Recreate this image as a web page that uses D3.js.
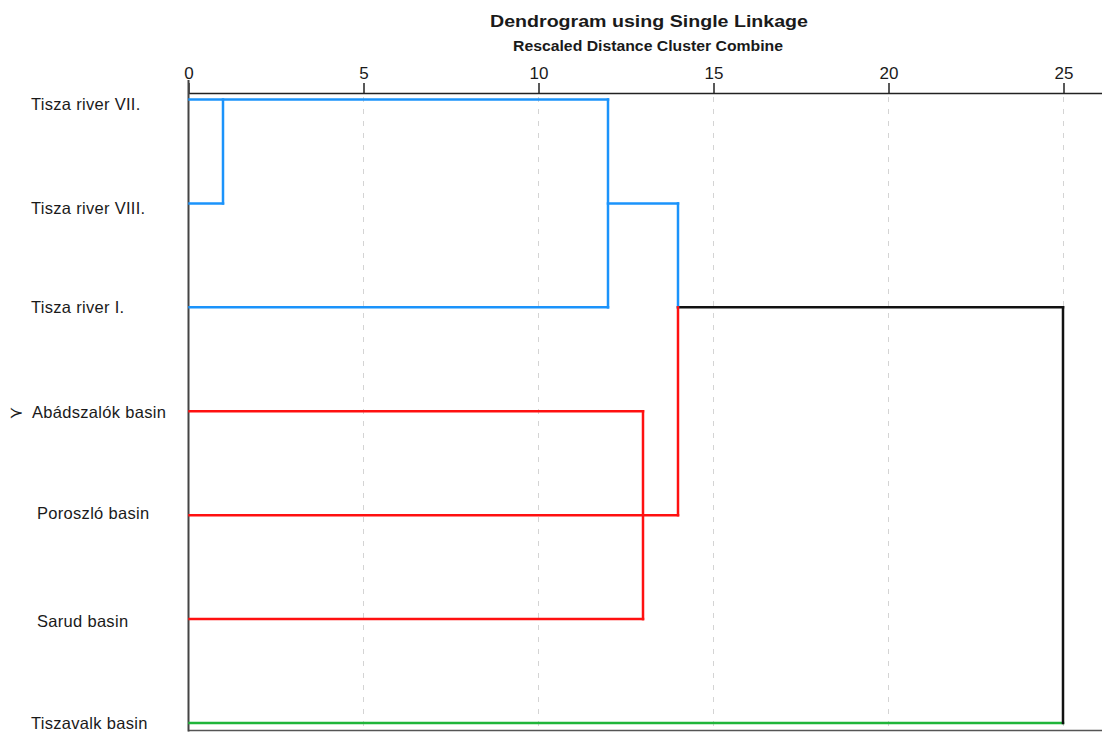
<!DOCTYPE html>
<html>
<head>
<meta charset="utf-8">
<script src="https://cdn.jsdelivr.net/npm/d3@7"></script>
<style>
  html, body { margin: 0; padding: 0; background: #fff; }
  svg { display: block; }
  text { font-family: "Liberation Sans", Arial, sans-serif; fill: #1a1a1a; }
</style>
</head>
<body>
<svg id="chart" width="1102" height="733"></svg>
<script>
// Cases, top to bottom
const leaves = [
  "Tisza river VII.",
  "Tisza river VIII.",
  "Tisza river I.",
  "Abádszalók basin",
  "Poroszló basin",
  "Sarud basin",
  "Tiszavalk basin"
];

// Rescaled distance axis ticks
const ticks = [0, 5, 10, 15, 20, 25];

// Horizontal branches: case row, distance start, distance end, cluster group
const hLeaf  = ["Tisza river VII.", "Tisza river VIII.", "Tisza river VIII.", "Tisza river I.", "Tisza river I.", "Abádszalók basin", "Poroszló basin", "Sarud basin", "Tiszavalk basin"];
const hFrom  = [0, 0, 12, 0, 14, 0, 0, 0, 0];
const hTo    = [12, 1, 14, 12, 25, 13, 14, 13, 25];
const hGroup = ["A", "A", "A", "A", "root", "B", "B", "B", "C"];

// Vertical joins: distance, upper case row, lower case row, cluster group
const vDist  = [1, 12, 14, 14, 13, 25];
const vTop   = ["Tisza river VII.", "Tisza river VII.", "Tisza river VIII.", "Tisza river I.", "Abádszalók basin", "Tisza river I."];
const vBot   = ["Tisza river VIII.", "Tisza river I.", "Tisza river I.", "Poroszló basin", "Sarud basin", "Tiszavalk basin"];
const vGroup = ["A", "A", "A", "B", "B", "root"];

// Label placement (pixels): left indent and baseline shift per row
const labelX  = [31, 31, 31, 32, 37, 37, 31];
const labelDy = [10, 11, 6, 7, 4, 8, 6];
const markedCase = "Abádszalók basin";

const groupColor = { A: "#1b93fb", B: "#ff1010", C: "#1fb53a", root: "#111111" };

const svg = d3.select("#chart");
const x = d3.scaleLinear().domain([0, 25]).range([188, 1063]);
const y = d3.scalePoint().domain(leaves).range([99.5, 723]);
const axisY = 93, bottomY = 730.5;

// Titles
svg.append("text").attr("x", 490).attr("y", 27)
  .attr("textLength", 318).attr("lengthAdjust", "spacingAndGlyphs")
  .style("font-size", "17px").style("font-weight", "bold").text("Dendrogram using Single Linkage");
svg.append("text").attr("x", 513).attr("y", 51)
  .attr("textLength", 270).attr("lengthAdjust", "spacingAndGlyphs")
  .style("font-size", "14px").style("font-weight", "bold")
  .text("Rescaled Distance Cluster Combine");

// Dashed gridlines
svg.append("g").selectAll("line").data(ticks.filter(t => t > 0)).join("line")
  .attr("x1", d => x(d) + 0.5).attr("x2", d => x(d) + 0.5)
  .attr("y1", axisY + 4).attr("y2", bottomY)
  .attr("stroke", "#d4d4d4").attr("stroke-width", 1).attr("stroke-dasharray", "5,7");

// Top axis
const axis = d3.axisTop(x).tickValues(ticks).tickSize(10).tickSizeOuter(0).tickPadding(4);
const gAxis = svg.append("g").attr("transform", `translate(0.5,${axisY})`).call(axis);
gAxis.select(".domain").attr("d", `M${188 - 0.5},0.5H1102`).attr("stroke", "#222").attr("stroke-width", 1.5);
gAxis.selectAll(".tick line").attr("stroke", "#222").attr("stroke-width", 1.5);
gAxis.selectAll(".tick text").style("font-size", "17px").style("font-family", "'Liberation Sans', Arial, sans-serif").attr("fill", "#222");

// Bottom rule
svg.append("line").attr("x1", 188).attr("x2", 1102).attr("y1", bottomY).attr("y2", bottomY)
  .attr("stroke", "#555").attr("stroke-width", 1.5);

// Left rule
svg.append("line").attr("x1", 188.5).attr("x2", 188.5).attr("y1", 80).attr("y2", bottomY + 1)
  .attr("stroke", "#444").attr("stroke-width", 2);

// Branches
const hData = hLeaf.map((l, i) => ({ leaf: l, from: hFrom[i], to: hTo[i], group: hGroup[i] }));
const vData = vDist.map((d, i) => ({ dist: d, top: vTop[i], bot: vBot[i], group: vGroup[i] }));

svg.append("g").selectAll("line").data(hData).join("line")
  .attr("x1", d => x(d.from) + (d.from === 0 ? 1.5 : 0)).attr("x2", d => x(d.to))
  .attr("y1", d => y(d.leaf)).attr("y2", d => y(d.leaf))
  .attr("stroke", d => groupColor[d.group]).attr("stroke-width", 2.5).attr("stroke-linecap", "square");

svg.append("g").selectAll("line").data(vData).join("line")
  .attr("x1", d => x(d.dist)).attr("x2", d => x(d.dist))
  .attr("y1", d => y(d.top)).attr("y2", d => y(d.bot))
  .attr("stroke", d => groupColor[d.group]).attr("stroke-width", 2.5).attr("stroke-linecap", "square");

// Case labels
svg.append("g").selectAll("text").data(leaves).join("text")
  .attr("x", (d, i) => labelX[i]).attr("y", (d, i) => y(d) + labelDy[i])
  .style("font-size", "16.5px").style("letter-spacing", "0.3px").attr("fill", "#222")
  .text(d => d);

// Marker beside the flagged case
svg.append("text").attr("x", 9).attr("y", y(markedCase) + 7)
  .attr("textLength", 14).attr("lengthAdjust", "spacingAndGlyphs")
  .style("font-size", "16px").text("≻");
</script>
</body>
</html>
